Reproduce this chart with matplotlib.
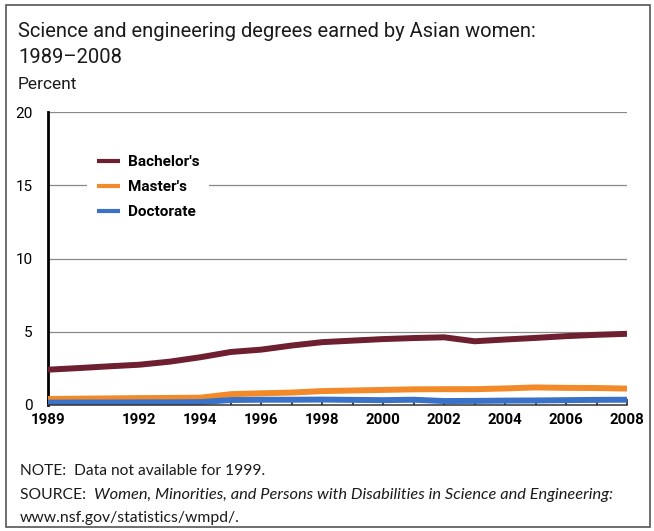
import matplotlib
matplotlib.use("Agg")
import matplotlib.pyplot as plt
from matplotlib.patches import Rectangle

# -------------------------------
# DATA (percent; 1999 not available)
# -------------------------------
years = [1989, 1990, 1991, 1992, 1993, 1994, 1995, 1996, 1997, 1998,
         2000, 2001, 2002, 2003, 2004, 2005, 2006, 2007, 2008]
bachelors = [2.41, 2.52, 2.64, 2.75, 2.96, 3.26, 3.62, 3.78, 4.06, 4.29,
             4.50, 4.57, 4.62, 4.35, 4.47, 4.58, 4.70, 4.79, 4.86]
masters = [0.41, 0.43, 0.45, 0.47, 0.48, 0.50, 0.74, 0.80, 0.85, 0.95,
           1.03, 1.07, 1.08, 1.08, 1.13, 1.20, 1.17, 1.16, 1.12]
doctorate = [0.16, 0.17, 0.17, 0.18, 0.18, 0.20, 0.34, 0.36, 0.36, 0.37,
             0.33, 0.36, 0.27, 0.28, 0.30, 0.31, 0.33, 0.35, 0.36]

tick_years = list(range(1989, 2009))
labeled_years = [1989, 1992, 1994, 1996, 1998, 2000, 2002, 2004, 2006, 2008]
y_ticks = [0, 5, 10, 15, 20]

series_names = ["Bachelor's", "Master's", "Doctorate"]
colors = ["#6e1f30", "#f28a2a", "#3a72c8"]

# -------------------------------
# FIGURE
# -------------------------------
head = ["Roboto", "DejaVu Sans"]
body = ["Lato", "DejaVu Sans"]

W, H = 654, 531
fig = plt.figure(figsize=(W / 100, H / 100), dpi=100)
ax = fig.add_axes([48 / W, (H - 405) / H, (627 - 48) / W, (405 - 112) / H])

for vals, name, c in zip([bachelors, masters, doctorate], series_names, colors):
    ax.plot(years, vals, color=c, lw=4.3, label=name,
            solid_capstyle="butt", solid_joinstyle="round", zorder=3)

ax.set_xlim(1989, 2008)
ax.set_ylim(0, 20)

# grid lines
ax.set_yticks(y_ticks)
ax.set_yticklabels([str(v) for v in y_ticks], fontfamily=head, fontsize=11)
for v in y_ticks[1:]:
    ax.axhline(v, color="#8a8a8a", lw=0.9, zorder=1)
ax.tick_params(axis="y", length=0, pad=11)

ax.set_xticks(tick_years)
ax.set_xticklabels([str(y) if y in labeled_years else "" for y in tick_years],
                   fontfamily=head, fontsize=10.8, fontweight="bold")
ax.tick_params(axis="x", direction="in", length=4, width=1.2, color="#222222", pad=6)

for s in ["top", "right"]:
    ax.spines[s].set_visible(False)
ax.spines["left"].set_linewidth(2.0)
ax.spines["left"].set_color("black")
ax.spines["bottom"].set_linewidth(1.1)
ax.spines["bottom"].set_color("#333333")
ax.spines["bottom"].set_zorder(4)

leg = ax.legend(loc="upper left", bbox_to_anchor=(0.055, 0.91),
                prop={"family": head, "size": 11, "weight": "bold"},
                handlelength=1.5, handletextpad=0.55, labelspacing=0.72,
                borderpad=0.6, frameon=True, fancybox=False)
leg.get_frame().set_facecolor("white")
leg.get_frame().set_edgecolor("none")
leg.get_frame().set_alpha(1)
for h in leg.get_lines():
    h.set_linewidth(3)

# -------------------------------
# TEXT
# -------------------------------
fig.text(18 / W, 1 - 37 / H, "Science and engineering degrees earned by Asian women:",
         fontfamily=head, fontsize=14.5, color="#1a1a1a", va="baseline")
fig.text(18 / W, 1 - 63 / H, "1989\u20132008",
         fontfamily=head, fontsize=14.5, color="#1a1a1a", va="baseline")
fig.text(18 / W, 1 - 89 / H, "Percent",
         fontfamily=head, fontsize=12.5, color="#1a1a1a", va="baseline")

fig.text(20 / W, 1 - 475 / H, "NOTE:  Data not available for 1999.",
         fontfamily=body, fontsize=11.2, color="#1a1a1a", va="baseline")
src = fig.text(20 / W, 1 - 499 / H, "SOURCE:  ",
               fontfamily=body, fontsize=11.3, color="#1a1a1a", va="baseline")
ax.annotate("Women, Minorities, and Persons with Disabilities in Science and Engineering:",
            xy=(1, 0), xycoords=src, va="bottom", ha="left",
            fontfamily=body, fontsize=11.75, fontstyle="italic", color="#1a1a1a",
            annotation_clip=False)
fig.text(20 / W, 1 - 522 / H, "www.nsf.gov/statistics/wmpd/.",
         fontfamily=body, fontsize=11.3, color="#1a1a1a", va="baseline")

# outer frame
fig.add_artist(Rectangle((6 / W, 4 / H), 644 / W, 522 / H, transform=fig.transFigure,
                         fill=False, edgecolor="#555555", lw=1.2))

fig.savefig("out.png", dpi=100)
